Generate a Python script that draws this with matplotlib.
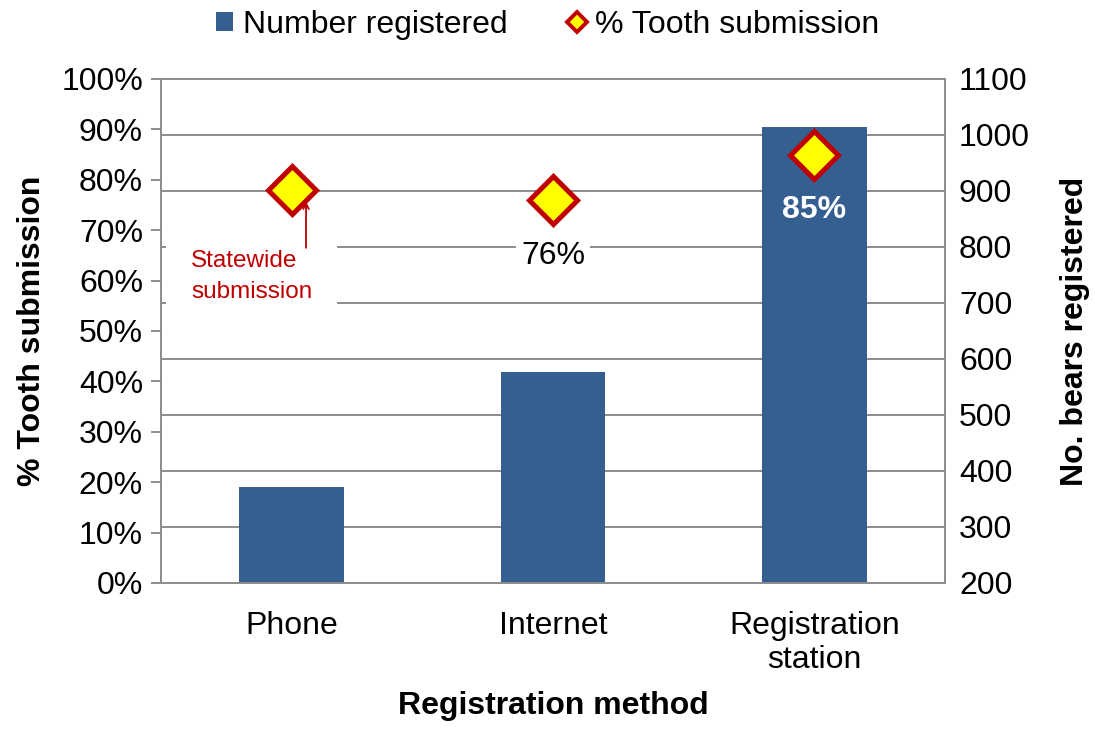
import matplotlib

matplotlib.use("Agg")
import matplotlib.pyplot as plt
from matplotlib.lines import Line2D
from matplotlib.patches import Patch
from matplotlib.ticker import PercentFormatter, MultipleLocator

plt.rcParams["font.family"] = ["Liberation Sans", "DejaVu Sans"]

methods = ["Phone", "Internet", "Registration\nstation"]
n_registered = [372, 577, 1014]
pct_tooth = [0.78, 0.76, 0.85]
statewide_note = "Statewide\nsubmission"

BAR = "#365F91"
GRID = "#8C8C8C"
DARKRED = "#C00000"
FS = 23

fig = plt.figure(figsize=(10.95, 7.29), dpi=100)
ax_bar = fig.add_axes([161 / 1095, 146 / 729, 784 / 1095, 504 / 729])
ax_pct = ax_bar.twinx()

x = range(len(methods))
ax_bar.bar(x, n_registered, width=0.40, color=BAR, zorder=2)
ax_bar.set_ylim(200, 1100)
ax_bar.yaxis.set_major_locator(MultipleLocator(100))
ax_bar.yaxis.tick_right()
ax_bar.yaxis.set_label_position("right")
ax_bar.tick_params(axis="y", length=0, pad=10, labelsize=FS)
ax_bar.grid(axis="y", color=GRID, lw=1.4)
ax_bar.set_axisbelow(True)
ax_bar.set_xlim(-0.5, 2.5)
ax_bar.set_xticks(list(x))
ax_bar.set_xticklabels(methods, fontsize=FS, linespacing=1.2)
ax_bar.tick_params(axis="x", length=0, pad=20)
ax_bar.set_xlabel("Registration method", fontsize=FS, fontweight="bold", labelpad=11)
ax_bar.set_ylabel("No. bears registered", fontsize=FS, fontweight="bold", labelpad=22)
for s in ax_bar.spines.values():
    s.set_color(GRID)
    s.set_linewidth(1.4)

ax_pct.plot(x, pct_tooth, ls="none", marker="D", ms=24, mfc="#FFFF00",
            mec=DARKRED, mew=3.6, zorder=5)
ax_pct.set_ylim(0, 1)
ax_pct.yaxis.set_major_locator(MultipleLocator(0.1))
ax_pct.yaxis.set_major_formatter(PercentFormatter(1.0, decimals=0))
ax_pct.yaxis.tick_left()
ax_pct.yaxis.set_label_position("left")
ax_pct.tick_params(axis="y", length=7, width=1.4, color=GRID, pad=6, labelsize=FS)
ax_pct.set_ylabel("% Tooth submission", fontsize=FS, fontweight="bold", labelpad=10)
for s in ax_pct.spines.values():
    s.set_visible(False)

for i, v in enumerate(pct_tooth):
    inside = i == 2
    ax_pct.annotate(f"{v:.0%}", (i, v), xytext=(0, -40), textcoords="offset points",
                    ha="center", va="center", fontsize=FS,
                    color="white" if inside else "black",
                    fontweight="bold" if inside else "normal",
                    bbox=None if inside else dict(facecolor="white", edgecolor="none", pad=4),
                    zorder=6)

# callout box sits on top of the phone label, as in the original
ax_pct.text(-0.385, 0.608, statewide_note, ha="left", va="center", fontsize=17.5,
            color=DARKRED, linespacing=1.55,
            bbox=dict(facecolor="white", edgecolor="none", pad=18), zorder=7)
ax_pct.annotate("", xy=(0.055, 0.757), xytext=(0.055, 0.665),
                arrowprops=dict(arrowstyle="->", color=DARKRED, lw=1.3,
                                shrinkA=0, shrinkB=0), zorder=8)

handles = [
    Patch(facecolor=BAR, edgecolor="none"),
    Line2D([], [], ls="none", marker="D", ms=10, mfc="#FFFF00", mec=DARKRED, mew=2.8),
]
fig.legend(handles, ["Number registered", "% Tooth submission"], loc="upper center",
           bbox_to_anchor=(0.5, 1.026), ncol=2, frameon=False, fontsize=FS,
           handlelength=0.55, handleheight=0.55, handletextpad=0.3, columnspacing=1.9)

fig.savefig("out.png", dpi=100)
